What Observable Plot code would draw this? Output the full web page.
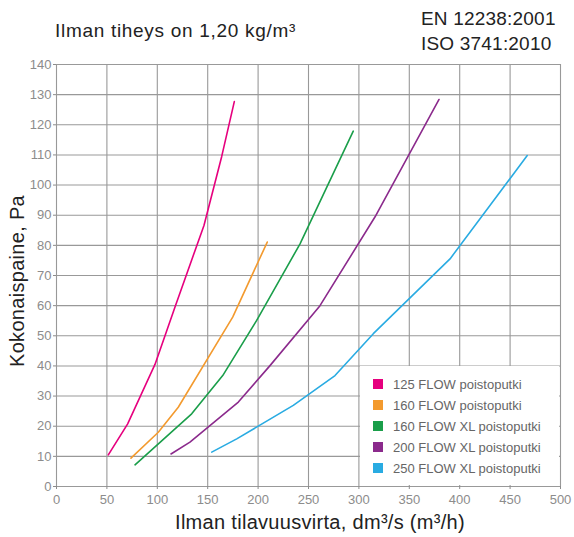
<!DOCTYPE html>
<html><head><meta charset="utf-8">
<script src="https://cdn.jsdelivr.net/npm/d3@7"></script>
<script src="https://cdn.jsdelivr.net/npm/@observablehq/plot@0.6"></script>
<style>
body{margin:0;background:#fff;font-family:"Liberation Sans",Arial,sans-serif;}
#wrap{position:relative;width:574px;height:537px;overflow:hidden;}
#chart{position:absolute;left:0;top:0;}
.t{position:absolute;white-space:nowrap;color:#222;line-height:1;}
#title{left:55px;top:21px;font-size:19px;letter-spacing:0.7px;}
#std{left:421px;top:6px;font-size:19px;line-height:25px;letter-spacing:0.2px;}
#ylab{left:17px;top:281px;font-size:20px;letter-spacing:0.3px;transform:translate(-50%,-50%) rotate(-90deg);}
#xlab{left:320px;top:522px;font-size:20px;letter-spacing:0.3px;transform:translate(-50%,-50%);}
#legend{position:absolute;left:360px;top:366px;width:199px;height:119px;background:#fff;}
.row{position:absolute;left:13px;height:16px;display:flex;align-items:center;font-size:13px;color:#666;}
.sw{width:10px;height:10px;margin-right:10px;}
</style></head><body>
<div id="wrap">
  <div id="chart"></div>
  <div class="t" id="title">Ilman tiheys on 1,20 kg/m³</div>
  <div class="t" id="std">EN 12238:2001<br>ISO 3741:2010</div>
  <div class="t" id="ylab">Kokonaispaine, Pa</div>
  <div class="t" id="xlab">Ilman tilavuusvirta, dm³/s (m³/h)</div>
  <div id="legend"></div>
</div>
<script>
const seriesNames = ["125 FLOW poistoputki","160 FLOW poistoputki","160 FLOW XL poistoputki","200 FLOW XL poistoputki","250 FLOW XL poistoputki"];
const seriesColors = ["#e6007e","#f39a2e","#1a9e4a","#8b2a8c","#29abe2"];

const flow125X = [51.4, 70.6, 97.7, 118, 146.3, 163.9, 176.4];
const flow125Y = [10.5, 20.8, 40.5, 60, 86.6, 109.5, 127.7];
const flow160X = [73.9, 101, 120.8, 174.8, 209.1];
const flow160Y = [9.4, 18, 26.3, 56.2, 81.1];
const flow160xlX = [77.9, 134.1, 164.9, 198.6, 241.6, 294.4];
const flow160xlY = [7.2, 24.1, 36.8, 55.1, 80.5, 117.9];
const flow200xlX = [113.6, 132.4, 180.4, 211.8, 261.4, 315.9, 379.5];
const flow200xlY = [10.8, 14.7, 28, 40.1, 60, 89.4, 128.4];
const flow250xlX = [154, 178.8, 234.9, 276.3, 314.3, 390.4, 467];
const flow250xlY = [11.4, 15.8, 26.9, 36.8, 50.7, 75.5, 109.8];

const xTicks = [0,50,100,150,200,250,300,350,400,450,500];
const yTicks = [0,10,20,30,40,50,60,70,80,90,100,110,120,130,140];

const allX = [flow125X, flow160X, flow160xlX, flow200xlX, flow250xlX];
const allY = [flow125Y, flow160Y, flow160xlY, flow200xlY, flow250xlY];
const data = [];
seriesNames.forEach((name, i) => {
  allX[i].forEach((x, j) => data.push({series: name, x, y: allY[i][j]}));
});

const chart = Plot.plot({
  width: 574,
  height: 537,
  marginLeft: 56,
  marginRight: 14,
  marginTop: 64,
  marginBottom: 51,
  style: {fontFamily: "'Liberation Sans', Arial, sans-serif", fontSize: "13px", background: "#fff"},
  x: {domain: [0, 500], ticks: xTicks},
  y: {domain: [0, 140], ticks: yTicks},
  color: {domain: seriesNames, range: seriesColors},
  marks: [
    Plot.ruleX(xTicks, {stroke: "#999", strokeWidth: 1.1}),
    Plot.ruleY(yTicks, {stroke: "#999", strokeWidth: 1.1}),
    Plot.axisX({ticks: xTicks, tickSize: 3, tickPadding: 5, color: "#8c8c8c", label: null}),
    Plot.axisY({ticks: yTicks, tickSize: 3, tickPadding: 2, color: "#8c8c8c", label: null}),
    Plot.line(data, {x: "x", y: "y", z: "series", stroke: "series", strokeWidth: 1.6})
  ]
});
document.getElementById("chart").appendChild(chart);

const leg = document.getElementById("legend");
seriesNames.forEach((name, i) => {
  const row = document.createElement("div");
  row.className = "row";
  row.style.top = (10 + i * 21) + "px";
  const sw = document.createElement("span");
  sw.className = "sw";
  sw.style.background = seriesColors[i];
  const tx = document.createElement("span");
  tx.textContent = name;
  row.appendChild(sw); row.appendChild(tx);
  leg.appendChild(row);
});
</script>
</body></html>
